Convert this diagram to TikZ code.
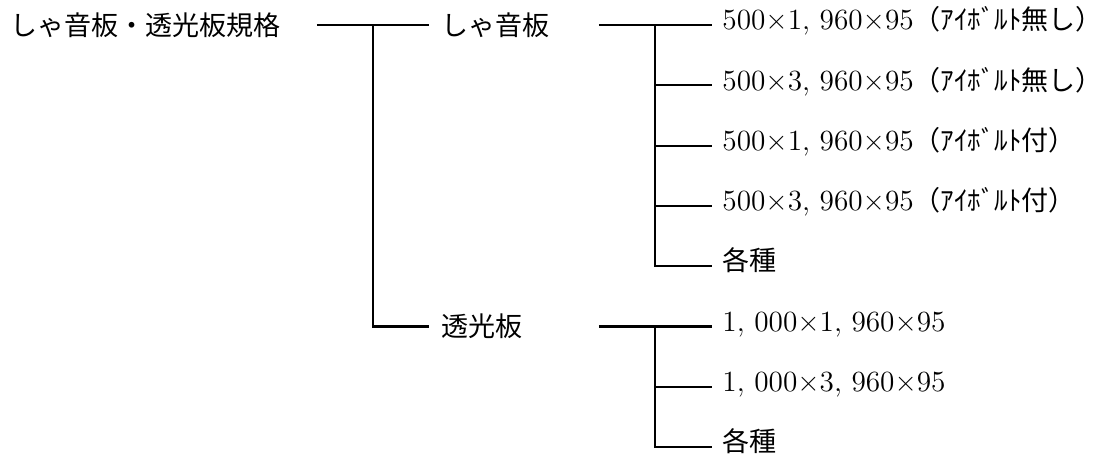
\documentclass[tikz,border=0pt]{standalone}
\usepackage[no-math]{fontspec}
\setmainfont{Noto Sans CJK JP}
\newfontfamily\numfont{Latin Modern Roman}
\usetikzlibrary{calc}

\newcommand\sizetext[1]{{\numfont\fontsize{13}{15}\selectfont #1}}

\tikzset{
  sizefont/.style={font=\fontsize{12}{14}\selectfont},
  rootbox/.style={sizefont, inner sep=0pt, text width=135.9pt, align=left, text height=10.56pt, text depth=1.44pt, anchor=west},
  midbox/.style={sizefont, inner xsep=5.33pt, inner ysep=0pt, text width=64.4pt, align=left, text height=10.56pt, text depth=1.44pt, anchor=west},
  leafbox/.style={sizefont, inner xsep=4.44pt, inner ysep=0pt, text height=8.6pt, text depth=4.4pt, anchor=west},
  conn/.style={draw=black, line width=0.9pt},
}

\begin{document}
\begin{tikzpicture}[x=0.444pt, y=-0.444pt]
    \useasboundingbox (0,0) rectangle (1114,461);

    % Nodes
    \node[rootbox] (root) at (10,25) {しゃ音板・透光板規格};
    \node[midbox] (shaon) at (429,25) {しゃ音板};
    \node[midbox] (toukou) at (429,326.5) {透光板};

    \foreach \i/\txt in {1/{\sizetext{500×1, 960×95}（ｱｲﾎﾞﾙﾄ無し）},
                         2/{\sizetext{500×3, 960×95}（ｱｲﾎﾞﾙﾄ無し）},
                         3/{\sizetext{500×1, 960×95}（ｱｲﾎﾞﾙﾄ付）},
                         4/{\sizetext{500×3, 960×95}（ｱｲﾎﾞﾙﾄ付）},
                         5/{各種}}
        \node[leafbox] (s\i) at (712,{25+60.3*(\i-1)}) {\txt};

    \foreach \i/\txt in {1/{\sizetext{1, 000×1, 960×95}},
                         2/{\sizetext{1, 000×3, 960×95}},
                         3/{各種}}
        \node[leafbox] (t\i) at (712,{326.5+60.3*(\i-1)}) {\txt};

    % Paths
    \coordinate (j1) at ($(root.east)!.5!(shaon.west)$);
    \coordinate (j2) at ($(shaon.east)!.5!(s1.west)$);
    \coordinate (j3) at ($(toukou.east)!.5!(t1.west)$);

    \draw[conn] (root.east) -- (shaon.west);
    \draw[conn] (j1) |- (toukou.west);

    \draw[conn] (shaon.east) -- (s1.west);
    \draw[conn] (j2) |- (s5.west);
    \foreach \i in {2,3,4}
        \draw[conn] (j2 |- s\i.west) -- (s\i.west);

    \draw[conn] (toukou.east) -- (t1.west);
    \draw[conn] (j3) |- (t3.west);
    \draw[conn] (j3 |- t2.west) -- (t2.west);
\end{tikzpicture}
\end{document}
